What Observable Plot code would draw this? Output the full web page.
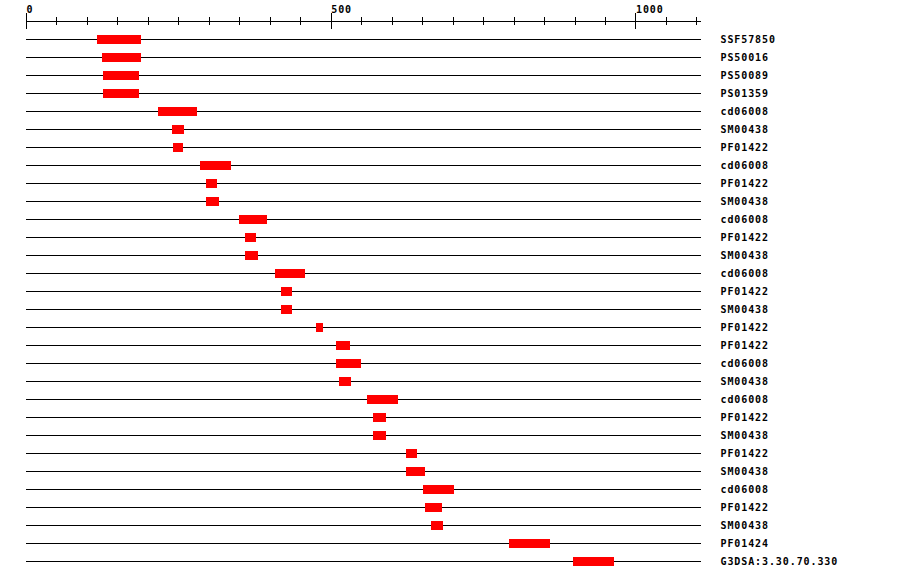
<!DOCTYPE html>
<html>
<head>
<meta charset="utf-8">
<script src="https://cdn.jsdelivr.net/npm/d3@7"></script>
<script src="https://cdn.jsdelivr.net/npm/@observablehq/plot@0.6"></script>
<style>
  html, body { margin: 0; padding: 0; background: #fff; }
  #chart svg { display: block; }
</style>
</head>
<body>
<div id="chart"></div>
<script>
const labels = ["SSF57850","PS50016","PS50089","PS01359","cd06008","SM00438","PF01422","cd06008","PF01422","SM00438",
  "cd06008","PF01422","SM00438","cd06008","PF01422","SM00438","PF01422","PF01422","cd06008","SM00438",
  "cd06008","PF01422","SM00438","PF01422","SM00438","cd06008","PF01422","SM00438","PF01424","G3DSA:3.30.70.330"];
const starts = [117,124,127,127,217,240,242,285,295,295,349,359,359,408,418,418,475,508,508,513,560,570,570,624,624,652,655,664,793,897];
const ends   = [188,188,186,185,280,260,258,336,314,316,395,378,380,457,436,437,488,532,549,534,611,590,590,641,655,703,683,685,859,964];
const seqLength = 1107;
const minorTicks = d3.range(0, 1101, 50);
const majorTicks = [0, 500, 1000];

const rows = labels.map((label, i) => ({label, start: starts[i], end: ends[i], row: i}));
const font = "'DejaVu Sans Mono', monospace";

const chart = Plot.plot({
  width: 900,
  height: 580,
  marginTop: 0, marginBottom: 0, marginLeft: 26, marginRight: 199,
  style: {fontFamily: font, fontSize: "10px", fontWeight: "bold", background: "#fff", overflow: "visible"},
  x: {domain: [0, seqLength], range: [26, 700.7], axis: null},
  y: {domain: [-1, 29], range: [21, 561], axis: null},
  marks: [
    // axis line
    Plot.ruleY([-1], {y: d => d, stroke: "#000", strokeWidth: 1}),
    // minor ticks
    Plot.ruleX(minorTicks, {x: d => d, y1: -1, y2: -1, insetTop: -4, insetBottom: -4, stroke: "#000", shapeRendering: "crispEdges"}),
    // major ticks
    Plot.ruleX(majorTicks, {x: d => d, y1: -1, y2: -1, insetTop: -8, insetBottom: -8, stroke: "#000", shapeRendering: "crispEdges"}),
    // tick labels
    Plot.text(majorTicks, {x: d => d, y: -1, text: d => String(d), textAnchor: "start", lineAnchor: "bottom", dy: -9, fill: "#000"}),
    // row lines
    Plot.ruleY(rows, {y: "row", stroke: "#000", strokeWidth: 1}),
    // domain bars
    Plot.rect(rows, {x1: "start", x2: "end", y1: "row", y2: "row", insetTop: -4.5, insetBottom: -4.5, fill: "#ff0000", shapeRendering: "crispEdges"}),
    // row labels
    Plot.text(rows, {y: "row", text: "label", frameAnchor: "right", dx: 19, textAnchor: "start", lineAnchor: "middle", fill: "#000"})
  ]
});
chart.querySelectorAll("text").forEach(t => t.style.letterSpacing = "0.9px");
document.getElementById("chart").appendChild(chart);
</script>
</body>
</html>
